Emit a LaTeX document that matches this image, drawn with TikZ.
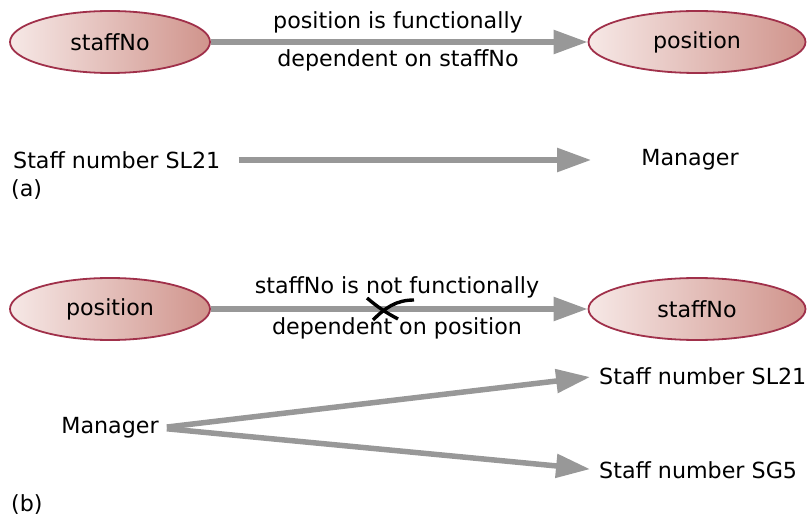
\documentclass[tikz,border=0pt]{standalone}
\usepackage{fontspec}
\setmainfont{DejaVu Sans}
\usetikzlibrary{arrows.meta,shapes.geometric}
\definecolor{attrline}{HTML}{A0304A}
\definecolor{attrleft}{HTML}{F6E8E6}
\definecolor{attrright}{HTML}{D0948C}
\definecolor{fdgray}{HTML}{989898}
\tikzset{
	attr/.style={ellipse, draw=attrline, line width=1.8pt, left color=attrleft, right color=attrright, minimum height=62pt, inner sep=0pt},
	fd/.style={draw=fdgray, line width=5.5pt, -{Triangle[length=34pt,width=23pt]}},
	val/.style={inner sep=0pt}
}

\begin{document}
\begin{tikzpicture}[x=1pt,y=-1pt,font=\fontsize{22.2}{27}\selectfont]
			%%%%% START %%%%%
			\useasboundingbox (0,0) rectangle (809,521);
			
			% (a)
			\node[attr, minimum width=200pt] (staffA) at (110, 42) {staffNo};
			\node[attr, minimum width=217pt] (posA) at (697, 42) {position};
			\draw[fd] (staffA.east) -- (posA.west);
			\node (fdA1) at (398, 22) {position is functionally};
			\node (fdA2) at (398, 60) {dependent on staffNo};
			
			\node[val, anchor=west] (snA) at (13, 160) {Staff number SL21};
			\node[val] (mgrA) at (690, 160) {Manager};
			\draw[fd, shorten <=18pt, shorten >=50pt] (snA.east) -- (mgrA.west);
			\node[val, anchor=west] (labA) at (11, 190) {(a)};
			
			% (b)
			\node[attr, minimum width=200pt] (posB) at (110, 309) {position};
			\node[attr, minimum width=217pt] (staffB) at (697, 309) {staffNo};
			\draw[fd] (posB.east) -- (staffB.west);
			\node (fdB1) at (397, 287) {staffNo is not functionally};
			\node (fdB2) at (397, 328) {dependent on position};
			\draw[line width=3.4pt] (367, 298) to[bend right=6] (398, 319);
			\draw[line width=3.4pt] (414, 300) .. controls (396, 300) and (385, 308) .. (373, 320);
			
			\node[val] (mgrB) at (110, 428) {Manager};
			\node[val, anchor=west] (snB1) at (599, 376) {Staff number SL21};
			\node[val, anchor=west] (snB2) at (599, 470) {Staff number SG5};
			\draw[fd, shorten <=8pt, shorten >=9pt] (mgrB.east) -- (snB1.west);
			\draw[fd, shorten <=8pt, shorten >=9pt] (mgrB.east) -- (snB2.west);
			\node[val, anchor=west] (labB) at (11, 505) {(b)};
			
			%%%%% END %%%%%
\end{tikzpicture}
\end{document}
